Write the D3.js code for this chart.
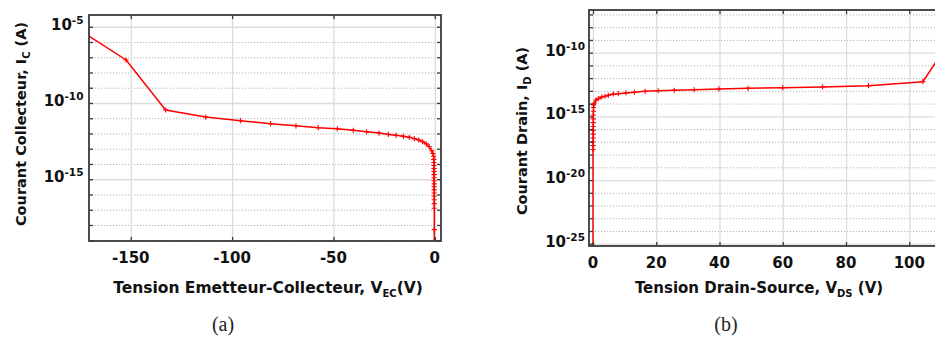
<!DOCTYPE html>
<html><head><meta charset="utf-8">
<script src="https://cdn.jsdelivr.net/npm/d3@7/dist/d3.min.js"></script>
<style>
body{margin:0;background:#fff}
svg{display:block}
text{font-family:"DejaVu Sans",sans-serif;font-weight:bold;fill:#111}
</style>
</head><body>
<svg id="c" width="935" height="343"></svg>
<script>
// ---------- Panel (a) data : V_EC (V) vs I_C (A) ----------
const vecA = [-172, -152.3, -132.8, -113.0, -95.8, -81.0, -68.5, -57.5, -48.1, -40.2, -33.6, -27.5,
  -22.9, -19.1, -15.5, -12.6, -10.1, -7.9, -6.0, -4.2, -2.7, -1.5, -0.9,
  -0.6, -0.5, -0.45, -0.4, -0.38, -0.36, -0.34, -0.33, -0.32, -0.31, -0.30, -0.29, -0.28,
  -0.27, -0.27, -0.26, -0.26, -0.25, -0.25];
const icA = [3.2e-6, 6.6e-8, 3.47e-11, 1.2e-11, 6.9e-12, 4.4e-12, 3.2e-12, 2.4e-12, 2.04e-12, 1.62e-12, 1.29e-12, 1.07e-12,
  8.7e-13, 7.6e-13, 6.5e-13, 5.6e-13, 4.6e-13, 3.7e-13, 2.9e-13, 2.1e-13, 1.35e-13, 7.4e-14, 4.9e-14,
  3.2e-14, 2.0e-14, 1.26e-14, 7.9e-15, 5.0e-15, 3.2e-15, 2.0e-15, 1.26e-15, 7.9e-16, 5.0e-16, 3.2e-16, 2.0e-16, 1.26e-16,
  7.9e-17, 4.5e-17, 2.5e-17, 1.26e-17, 5e-19, 8e-20];

// ---------- Panel (b) data : V_DS (V) vs I_D (A) ----------
const vdsB = [0, 0.02, 0.03, 0.04, 0.05, 0.06, 0.07, 0.08, 0.09, 0.1, 0.12, 0.14, 0.17, 0.2,
  0.4, 0.95, 1.7, 2.75, 3.8, 4.85, 6.4, 8.0, 10.4, 13.1, 16.5, 20.6, 25.7, 32.0, 39.8, 49.0,
  60.0, 72.6, 87.1, 104.3, 110];
const idB = [7e-26, 2.5e-18, 5e-18, 1e-17, 2e-17, 4e-17, 7.9e-17, 1.6e-16, 3.2e-16, 6.3e-16, 1.26e-15, 2.5e-15, 5e-15, 7.9e-15,
  1.07e-14, 1.9e-14, 2.45e-14, 3.3e-14, 3.8e-14, 4.5e-14, 5.75e-14, 6.0e-14, 6.8e-14, 7.8e-14, 9.3e-14, 1.02e-13, 1.12e-13, 1.23e-13, 1.41e-13, 1.58e-13,
  1.78e-13, 2.04e-13, 2.57e-13, 5.25e-13, 7.1e-11];

// ---------- ticks & labels ----------
const xTicksA = [-150, -100, -50, 0];
const xTicksB = [0, 20, 40, 60, 80, 100];
const yLabelExpA = [-5, -10, -15];
const yLabelExpB = [-10, -15, -20, -25];
const yDecadeExpA = [-19, -18, -17, -16, -15, -14, -13, -12, -11, -10, -9, -8, -7, -6, -5];
const yDecadeExpB = [-25, -24, -23, -22, -21, -20, -19, -18, -17, -16, -15, -14, -13, -12, -11, -10, -9, -8, -7];

const svg = d3.select("#c");

function panel(cfg){
  const g = svg.append("g");
  const x = d3.scaleLinear().domain(cfg.xDom).range([cfg.L, cfg.R]);
  const y = d3.scaleLog().domain(cfg.yDom).range([cfg.B, cfg.T]);
  const W = cfg.R - cfg.L, H = cfg.B - cfg.T;
  const major = cfg.yLabelExp.map(e => Math.pow(10, e));
  const minor = cfg.yDecExp.filter(e => !cfg.yLabelExp.includes(e)).map(e => Math.pow(10, e));
  const all = cfg.yDecExp.map(e => Math.pow(10, e));

  // dotted minor horizontal grid
  g.append("g").attr("transform", `translate(${cfg.L},0)`)
    .call(d3.axisLeft(y).tickValues(minor).tickSize(-W).tickFormat(""))
    .call(s => { s.select(".domain").remove();
      s.selectAll("line").attr("stroke", "#b4b4b4").attr("stroke-width", 1).attr("stroke-dasharray", "1.2,1.8"); });
  // solid major horizontal grid
  g.append("g").attr("transform", `translate(${cfg.L},0)`)
    .call(d3.axisLeft(y).tickValues(major).tickSize(-W).tickFormat(""))
    .call(s => { s.select(".domain").remove();
      s.selectAll("line").attr("stroke", "#dcdcdc").attr("stroke-width", 1.3); });
  // vertical grid
  g.append("g").attr("transform", `translate(0,${cfg.B})`)
    .call(d3.axisBottom(x).tickValues(cfg.xTicks).tickSize(-H).tickFormat(""))
    .call(s => { s.select(".domain").remove();
      s.selectAll("line").attr("stroke", "#dcdcdc").attr("stroke-width", 1.3); });

  // data
  const clipId = "clip" + cfg.id;
  svg.append("clipPath").attr("id", clipId).append("rect")
    .attr("x", cfg.L).attr("y", cfg.T).attr("width", W).attr("height", H);
  const pts = cfg.xs.map((v, i) => [v, cfg.ys[i]]);
  const dg = g.append("g").attr("clip-path", `url(#${clipId})`);
  dg.append("path").datum(pts)
    .attr("fill", "none").attr("stroke", "#ff0000").attr("stroke-width", 1.5)
    .attr("d", d3.line().x(d => x(d[0])).y(d => y(d[1])));
  dg.selectAll("path.m").data(pts).join("path").attr("class", "m")
    .attr("transform", d => `translate(${x(d[0])},${y(d[1])})`)
    .attr("d", "M-2.6,0H2.6M0,-2.6V2.6")
    .attr("stroke", "#ff0000").attr("stroke-width", 1.1).attr("fill", "none");

  // box
  g.append("rect").attr("x", cfg.L).attr("y", cfg.T).attr("width", W).attr("height", H)
    .attr("fill", "none").attr("stroke", "#3a3a3a").attr("stroke-width", 1.8);

  const tickStyle = s => { s.select(".domain").remove();
    s.selectAll("line").attr("stroke", "#3a3a3a").attr("stroke-width", 1.3); };
  g.append("g").attr("transform", `translate(${cfg.L},0)`)
    .call(d3.axisLeft(y).tickValues(all).tickSize(-4).tickFormat("")).call(tickStyle);
  g.append("g").attr("transform", `translate(${cfg.R},0)`)
    .call(d3.axisRight(y).tickValues(all).tickSize(-4).tickFormat("")).call(tickStyle);
  g.append("g").attr("transform", `translate(0,${cfg.T})`)
    .call(d3.axisTop(x).tickValues(cfg.xTicks).tickSize(-4).tickFormat("")).call(tickStyle);
  g.append("g").attr("transform", `translate(0,${cfg.B})`)
    .call(d3.axisBottom(x).tickValues(cfg.xTicks).tickSize(-4).tickFormat("")).call(tickStyle);

  // x tick labels
  g.selectAll("text.xt").data(cfg.xTicks).join("text").attr("class", "xt")
    .attr("x", d => x(d)).attr("y", cfg.B + 22).attr("text-anchor", "middle")
    .style("font-size", "15px").text(d => d < 0 ? "-" + Math.abs(d) : d);

  // y tick labels 10^e
  cfg.yLabelExp.forEach(e => {
    const t = g.append("text").attr("x", cfg.L - cfg.yLabGap).attr("y", y(Math.pow(10, e)) + 3)
      .attr("text-anchor", "end").style("font-size", "15px");
    t.append("tspan").text("10");
    t.append("tspan").attr("dy", -6).style("font-size", "10.5px").text(String(e));
  });

  // x title
  const xt = g.append("text").attr("x", cfg.xTitleX).attr("y", 292.5).attr("text-anchor", "middle")
    .style("font-size", cfg.xTitleSize);
  xt.append("tspan").text(cfg.xTitle[0]);
  xt.append("tspan").attr("dy", 4).style("font-size", "10px").text(cfg.xTitle[1]);
  xt.append("tspan").attr("dy", -4).text(cfg.xTitle[2]);

  // y title
  const yt = g.append("text").attr("transform", `translate(${cfg.yTitleX},${cfg.yTitleY}) rotate(-90)`)
    .attr("text-anchor", "middle").style("font-size", "14.5px");
  yt.append("tspan").text(cfg.yTitle[0]);
  yt.append("tspan").attr("dy", 4).style("font-size", "10px").text(cfg.yTitle[1]);
  yt.append("tspan").attr("dy", -4).text(cfg.yTitle[2]);

  // panel letter
  g.append("text").attr("x", cfg.letterX).attr("y", 331).attr("text-anchor", "middle")
    .style("font-family", "'Liberation Serif',serif").style("font-weight", "normal")
    .style("font-size", "20px").style("fill", "#222").text(cfg.letter);
}

panel({
  id: "a", L: 89, R: 441, T: 15, B: 241,
  xDom: [-170.6, 3.06], yDom: [Math.pow(10, -19.05), Math.pow(10, -4.23)],
  xs: vecA, ys: icA, xTicks: xTicksA, yLabelExp: yLabelExpA, yDecExp: yDecadeExpA,
  yLabGap: 5.5,
  xTitle: ["Tension Emetteur-Collecteur, V", "EC", "(V)"], xTitleX: 268, xTitleSize: "15.5px",
  yTitle: ["Courant Collecteur, I", "C", " (A)"], yTitleX: 25.5, yTitleY: 124,
  letter: "(a)", letterX: 223
});
panel({
  id: "b", L: 589, R: 942.5, T: 10, B: 246,
  xDom: [-1.26, 110.5], yDom: [Math.pow(10, -25.18), Math.pow(10, -6.65)],
  xs: vdsB, ys: idB, xTicks: xTicksB, yLabelExp: yLabelExpB, yDecExp: yDecadeExpB,
  yLabGap: 4,
  xTitle: ["Tension Drain-Source, V", "DS", " (V)"], xTitleX: 759, xTitleSize: "15px",
  yTitle: ["Courant Drain, I", "D", " (A)"], yTitleX: 527, yTitleY: 131,
  letter: "(b)", letterX: 726
});
</script>
</body></html>
